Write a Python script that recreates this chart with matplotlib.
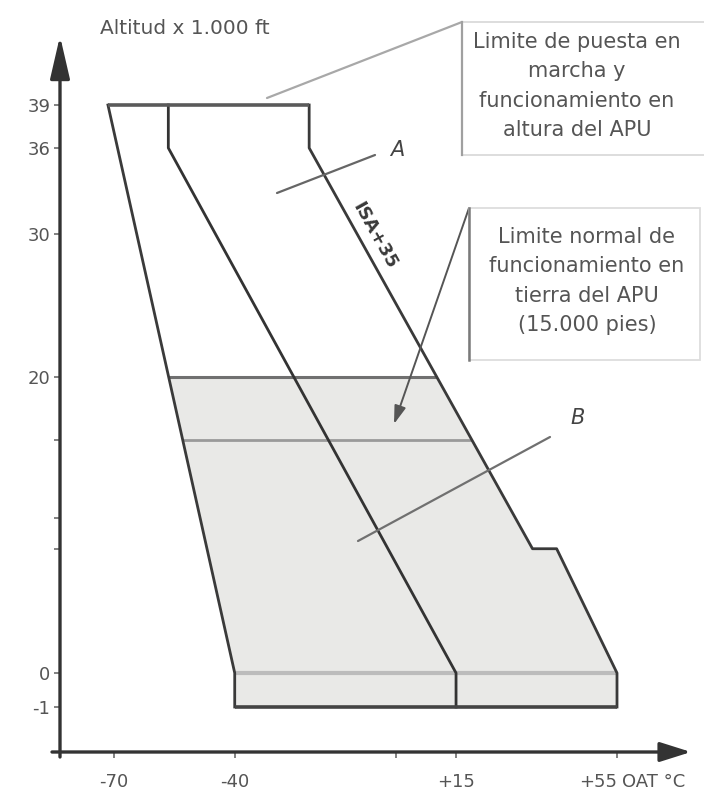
import numpy as np
import matplotlib
matplotlib.use("Agg")
import matplotlib.pyplot as plt
from matplotlib.patches import Polygon, Rectangle

# ---------------- data (temperature degC, altitude x 1000 ft) ----------------
LEFT_T = [-71.5, -40, -40]
LEFT_ALT = [39, 0, -1]
ISA_T = [-56.5, -56.5, 15, 15]
ISA_ALT = [39, 36, 0, -1]
RIGHT_T = [-21.5, -21.5, 34, 40, 55, 55]
RIGHT_ALT = [39, 36, 8, 8, 0, -1]
CEILING = 39
FLOOR = -1
SHADE_TOP = 20
GROUND_LIMIT = 15
SEA_LEVEL = 0

X_TICKS = [-70, -40, 0, 15, 55]
X_LABELS = ["-70", "-40", "", "+15", "+55"]
Y_TICKS = [39, 36, 30, 20, 15, 10, 8, 0, -1]
Y_LABELS = ["39", "36", "30", "20", "", "", "", "0", "-1"]

BOX1_TEXT = "Limite de puesta en\nmarcha y\nfuncionamiento en\naltura del APU"
BOX2_TEXT = "Limite normal de\nfuncionamiento en\ntierra del APU\n(15.000 pies)"

# ---------------- figure / scales ----------------
W, H = 704, 794
fig = plt.figure(figsize=(W / 100, H / 100), dpi=100)
ax = fig.add_axes([0, 0, 1, 1])

# schematic (not-to-scale) altitude axis of the original diagram
ALT_KNOTS = np.array([-40.0, -1.0, 0.0, 15.0, 20.0, 39.0, 80.0])
POS_KNOTS = np.array([87 - 39 * 34.0, 87.0, 121.0, 354.0, 417.0, 689.0,
                      689 + 41 * 14.3])


def fwd(a):
    return np.interp(a, ALT_KNOTS, POS_KNOTS)


def inv(p):
    return np.interp(p, POS_KNOTS, ALT_KNOTS)


ax.set_yscale("function", functions=(fwd, inv))
ax.set_ylim(float(inv(0)), float(inv(H)))
ax.set_xlim(-98.33, 76.62)

AXIS_T = -83.4
AXIS_ALT = float(inv(H - 752))

for s in ax.spines.values():
    s.set_visible(False)
ax.spines["left"].set_position(("data", AXIS_T))
ax.spines["bottom"].set_position(("data", AXIS_ALT))
ax.patch.set_alpha(0)

TXT = "#555555"
ax.set_xticks(X_TICKS)
ax.set_xticklabels(X_LABELS)
ax.set_yticks(Y_TICKS)
ax.set_yticklabels(Y_LABELS)
ax.tick_params(axis="x", direction="out", length=4, width=1.3, color="#777777",
               labelsize=13, labelcolor=TXT, pad=11)
ax.tick_params(axis="y", direction="out", length=4, width=1.3, color="#777777",
               labelsize=13, labelcolor=TXT, pad=3)
ax.minorticks_off()
ax.get_xticklabels()[-1].set_horizontalalignment("right")


def t_at(alt, T, A):
    """Temperature where the drawn boundary crosses altitude `alt` (display space)."""
    pts = ax.transData.transform(np.column_stack([T, A]))
    yd = ax.transData.transform((0, alt))[1]
    for i in range(len(pts) - 1):
        (x0, y0), (x1, y1) = pts[i], pts[i + 1]
        if y0 != y1 and min(y0, y1) <= yd <= max(y0, y1):
            xd = x0 + (yd - y0) * (x1 - x0) / (y1 - y0)
            return ax.transData.inverted().transform((xd, yd))[0]
    return np.nan


# ---------------- shaded region ----------------
poly = [(t_at(SHADE_TOP, LEFT_T, LEFT_ALT), SHADE_TOP)]
poly += [(t, a) for t, a in zip(LEFT_T, LEFT_ALT) if a < SHADE_TOP]
poly += [(t, a) for t, a in list(zip(RIGHT_T, RIGHT_ALT))[::-1] if a < SHADE_TOP]
poly += [(t_at(SHADE_TOP, RIGHT_T, RIGHT_ALT), SHADE_TOP)]
ax.add_patch(Polygon(poly, closed=True, facecolor="#e9e9e7", edgecolor="none", zorder=1))

# horizontal reference lines
for h, col, lw in [(SEA_LEVEL, "#bcbcbc", 3.0), (GROUND_LIMIT, "#9a9a9a", 2.0),
                   (SHADE_TOP, "#707070", 2.2)]:
    ax.plot([t_at(h, LEFT_T, LEFT_ALT), t_at(h, RIGHT_T, RIGHT_ALT)], [h, h],
            color=col, lw=lw, solid_capstyle="butt", zorder=2)

# envelope
ax.plot(LEFT_T, LEFT_ALT, color="#3a3a3a", lw=2.0, zorder=3)
ax.plot(ISA_T, ISA_ALT, color="#333333", lw=2.0, zorder=3)
ax.plot(RIGHT_T, RIGHT_ALT, color="#3a3a3a", lw=2.0, zorder=3)
ax.plot([LEFT_T[0], RIGHT_T[0]], [CEILING, CEILING], color="#5a5a5a", lw=2.6,
        solid_capstyle="butt", zorder=3)
ax.plot([LEFT_T[-1], RIGHT_T[-1]], [FLOOR, FLOOR], color="#444444", lw=2.6,
        solid_capstyle="butt", zorder=3)

# ISA+35 label along the line
p1 = ax.transData.transform((RIGHT_T[1], RIGHT_ALT[1]))
p2 = ax.transData.transform((RIGHT_T[2], RIGHT_ALT[2]))
ang = np.degrees(np.arctan2(p2[1] - p1[1], p2[0] - p1[0]))
lab_alt = 29.4
ax.annotate("ISA+35", xy=(t_at(lab_alt, RIGHT_T, RIGHT_ALT), lab_alt),
            xytext=(9.5, 5.0), textcoords="offset points", rotation=ang,
            rotation_mode="anchor", ha="center", va="center",
            fontsize=13, fontweight="bold", color="#3a3a3a", zorder=4)

# ---------------- axes arrows ----------------
FP = "figure pixels"
ax.annotate("", xy=(60, H - 36), xytext=(60, H - 757), xycoords=FP, textcoords=FP,
            arrowprops=dict(arrowstyle="-|>,head_length=2.6,head_width=0.6",
                            mutation_scale=10, color="#333333", lw=2.4,
                            shrinkA=0, shrinkB=0))
ax.annotate("", xy=(691, H - 752), xytext=(52, H - 752), xycoords=FP, textcoords=FP,
            arrowprops=dict(arrowstyle="-|>,head_length=1.9,head_width=0.6",
                            mutation_scale=10, color="#333333", lw=2.4,
                            shrinkA=0, shrinkB=0))

fig.text(100 / W, 1 - 28 / H, "Altitud x 1.000 ft", fontsize=14.5, color=TXT,
         ha="left", va="center")
fig.text(622 / W, 1 - 782 / H, "OAT °C", fontsize=13, color=TXT,
         ha="left", va="center")

# ---------------- annotation boxes ----------------
fig.add_artist(Rectangle((462 / W, 1 - 155 / H), 250 / W, 133 / H,
                         transform=fig.transFigure, facecolor="none",
                         edgecolor="#dadada", lw=1.3))
fig.add_artist(plt.Line2D([462 / W, 462 / W], [1 - 22 / H, 1 - 155 / H],
                          transform=fig.transFigure, color="#a0a0a0", lw=1.6))
fig.text(577 / W, 1 - 86 / H, BOX1_TEXT, fontsize=15, color=TXT, ha="center",
         va="center", linespacing=1.6)

fig.add_artist(Rectangle((469 / W, 1 - 360 / H), 231 / W, 152 / H,
                         transform=fig.transFigure, facecolor="none",
                         edgecolor="#dddddd", lw=1.3))
fig.add_artist(plt.Line2D([469 / W, 469 / W], [1 - 208 / H, 1 - 360 / H],
                          transform=fig.transFigure, color="#7a7a7a", lw=1.8))
fig.text(587 / W, 1 - 281 / H, BOX2_TEXT, fontsize=15, color=TXT, ha="center",
         va="center", linespacing=1.6)

# leaders
ax.annotate("", xy=(267, H - 98), xytext=(462, H - 22), xycoords=FP, textcoords=FP,
            arrowprops=dict(arrowstyle="-", color="#a8a8a8", lw=1.6,
                            shrinkA=0, shrinkB=0))
ax.annotate("", xy=(394, H - 424), xytext=(469, H - 208), xycoords=FP, textcoords=FP,
            arrowprops=dict(arrowstyle="-|>,head_length=1.1,head_width=0.35",
                            mutation_scale=10, color="#555555", lw=1.4,
                            shrinkA=0, shrinkB=0))
ax.annotate("", xy=(277, H - 193), xytext=(375, H - 155), xycoords=FP, textcoords=FP,
            arrowprops=dict(arrowstyle="-", color="#666666", lw=1.6,
                            shrinkA=0, shrinkB=0))
ax.annotate("", xy=(358, H - 541), xytext=(550, H - 437), xycoords=FP, textcoords=FP,
            arrowprops=dict(arrowstyle="-", color="#707070", lw=1.6,
                            shrinkA=0, shrinkB=0))
fig.text(397 / W, 1 - 150 / H, "A", fontsize=15, style="italic", color="#444444",
         ha="center", va="center")
fig.text(578 / W, 1 - 418 / H, "B", fontsize=15, style="italic", color="#444444",
         ha="center", va="center")

fig.savefig("out.png", dpi=100)
